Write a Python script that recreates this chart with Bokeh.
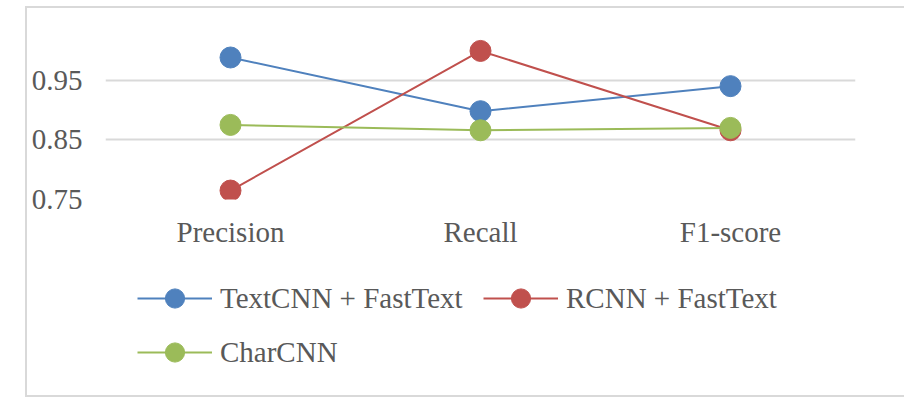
from bokeh.plotting import figure
from bokeh.layouts import column
from bokeh.models import FixedTicker, Legend, LegendItem, FactorRange, Range1d
from bokeh.embed import file_html
from bokeh.resources import INLINE

categories = ["Precision", "Recall", "F1-score"]
textcnn_fasttext = [0.988, 0.898, 0.940]
rcnn_fasttext = [0.765, 0.999, 0.866]
charcnn = [0.875, 0.866, 0.870]
series_names = ["TextCNN + FastText", "RCNN + FastText", "CharCNN"]
series_colors = ["#4F81BD", "#C0504D", "#9BBB59"]
y_ticks = [0.75, 0.85, 0.95]

FONT = "Liberation Serif"
TXT = "#595959"
GRID = "#D9D9D9"

# chart part
p = figure(x_range=FactorRange(*categories), y_range=Range1d(0.75, 1.05),
           width=877, height=250, output_backend="svg", toolbar_location=None,
           min_border_left=78, min_border_right=49, min_border_top=12, min_border_bottom=59)
p.outline_line_color = None
p.background_fill_color = "white"
p.border_fill_color = "white"

p.xgrid.grid_line_color = None
p.ygrid.ticker = FixedTicker(ticks=y_ticks)
p.ygrid.grid_line_color = GRID
p.ygrid.grid_line_width = 2

p.yaxis.ticker = FixedTicker(ticks=y_ticks)
for ax in (p.xaxis[0], p.yaxis[0]):
    ax.axis_line_color = None
    ax.major_tick_line_color = None
    ax.minor_tick_line_color = None
    ax.major_tick_out = 0
    ax.major_tick_in = 0
    ax.minor_tick_out = 0
    ax.major_label_text_font = FONT
    ax.major_label_text_font_size = "29px"
    ax.major_label_text_color = TXT
p.yaxis.major_label_standoff = 23
p.xaxis.major_label_standoff = 16

series_values = [textcnn_fasttext, rcnn_fasttext, charcnn]
for vals, col in zip(series_values, series_colors):
    p.line(categories, vals, line_color=col, line_width=2)
    p.scatter(categories, vals, size=21, fill_color=col, line_color=col)

# legend part: same series, drawn outside this panel's visible range,
# so that only their legend glyphs show
q = figure(x_range=FactorRange(*categories), y_range=Range1d(2, 3), width=877, height=137,
           output_backend="svg", toolbar_location=None, x_axis_type=None, y_axis_type=None,
           min_border=0)
q.outline_line_color = None
q.grid.visible = False
q.background_fill_color = "white"
q.border_fill_color = "white"
items = []
for name, vals, col in zip(series_names, series_values, series_colors):
    lr = q.line(categories, vals, line_color=col, line_width=2)
    sr = q.scatter(categories, vals, size=21, fill_color=col, line_color=col)
    items.append(LegendItem(label=name, renderers=[lr, sr]))

legend = Legend(items=items, location=(32, 19), orientation="horizontal", ncols=2,
                glyph_width=75, glyph_height=48, label_height=48, label_width=257,
                label_standoff=8, spacing=6, padding=0, margin=0,
                border_line_color=None, background_fill_alpha=0,
                label_text_font=FONT, label_text_font_size="29px", label_text_color=TXT)
q.add_layout(legend)

layout = column(p, q, spacing=0)
layout.margin = (8, 0, 0, 27)
layout.styles = {"box-shadow": "0 0 0 2px #D9D9D9"}

open("out.html", "w").write(file_html(layout, INLINE))
